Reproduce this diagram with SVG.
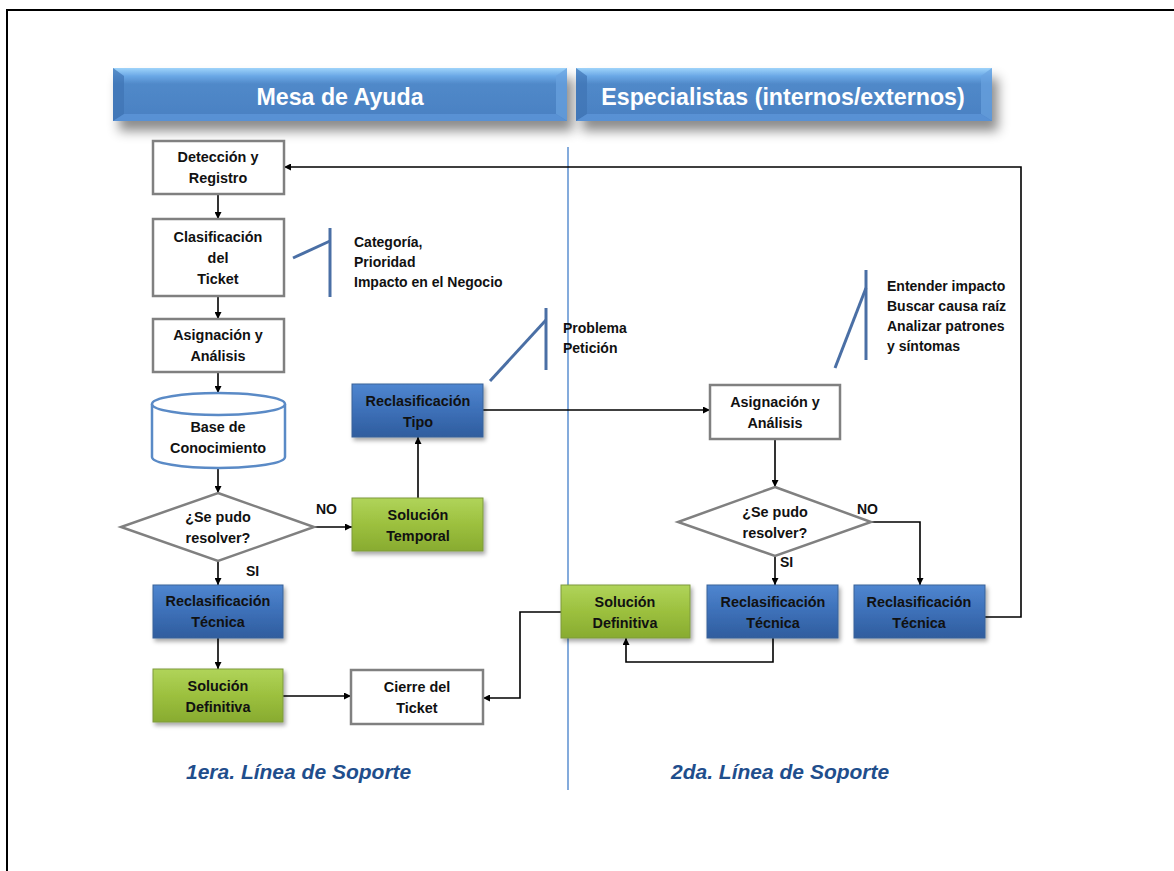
<svg xmlns="http://www.w3.org/2000/svg" width="1174" height="871" viewBox="0 0 1174 871">
  <style>
    text { font-family: "Liberation Sans", Arial, sans-serif; font-weight: bold; }
    .lbl { font-size: 14.4px; fill: #111; text-anchor: middle; }
    .note { font-size: 14px; fill: #111; }
    .hdr { font-size: 23.2px; fill: #fff; text-anchor: middle; }
    .foot { font-size: 21px; fill: #1f4e8c; font-style: italic; }
    .plain { fill: #fff; stroke: #808080; stroke-width: 2.5; }
    .blue { fill: url(#gBlue); stroke: #3a6299; stroke-width: 1; filter: url(#sh); }
    .green { fill: url(#gGreen); stroke: #7f9a3c; stroke-width: 1; filter: url(#sh); }
    .ann { fill: none; stroke: #4a6fa5; stroke-width: 3; }
    .conn { fill: none; stroke: #000; stroke-width: 1.6; }
  </style>
  <defs>
    <linearGradient id="gBlue" x1="0" y1="0" x2="0" y2="1">
      <stop offset="0" stop-color="#4f86d0"/>
      <stop offset="0.5" stop-color="#3d70b8"/>
      <stop offset="1" stop-color="#2f5d9e"/>
    </linearGradient>
    <linearGradient id="gGreen" x1="0" y1="0" x2="0" y2="1">
      <stop offset="0" stop-color="#b0d45a"/>
      <stop offset="0.5" stop-color="#9cc03e"/>
      <stop offset="1" stop-color="#88ab30"/>
    </linearGradient>
    <linearGradient id="gHdr" x1="0" y1="0" x2="0" y2="1">
      <stop offset="0" stop-color="#9fd4fa"/>
      <stop offset="0.15" stop-color="#6aa8e6"/>
      <stop offset="0.3" stop-color="#5089c9"/>
      <stop offset="1" stop-color="#4a80c2"/>
    </linearGradient>
    <filter id="sh" x="-10%" y="-10%" width="130%" height="140%">
      <feDropShadow dx="2" dy="3" stdDeviation="2" flood-color="#000" flood-opacity="0.35"/>
    </filter>
    <filter id="hsh" x="-10%" y="-30%" width="125%" height="190%">
      <feDropShadow dx="6" dy="10" stdDeviation="6" flood-color="#000" flood-opacity="0.45"/>
    </filter>
    <marker id="ah" viewBox="0 0 10 10" refX="10" refY="5" markerWidth="7" markerHeight="7" markerUnits="userSpaceOnUse" orient="auto">
      <path d="M0,0 L10,5 L0,10 z" fill="#000"/>
    </marker>
  </defs>

  <!-- page frame -->
  <path d="M7,871 V10 H1174" fill="none" stroke="#000" stroke-width="2"/>

  <!-- lane headers -->
  <g id="hdr-mesa">
    <rect x="113" y="68" width="454" height="53" fill="url(#gHdr)" filter="url(#hsh)"/>
    <polygon points="113,68 124,76 124,114 113,121" fill="#3f73b4" opacity="0.7"/>
    <polygon points="567,68 556,76 556,114 567,121" fill="#6aa2e0" opacity="0.7"/>
    <polygon points="113,121 124,114 556,114 567,121" fill="#5c95d8" opacity="0.8"/>
    <text class="hdr" x="340" y="105">Mesa de Ayuda</text>
  </g>
  <g id="hdr-esp">
    <rect x="576" y="68" width="416" height="53" fill="url(#gHdr)" filter="url(#hsh)"/>
    <polygon points="576,68 587,76 587,114 576,121" fill="#3f73b4" opacity="0.7"/>
    <polygon points="992,68 981,76 981,114 992,121" fill="#6aa2e0" opacity="0.7"/>
    <polygon points="576,121 587,114 981,114 992,121" fill="#5c95d8" opacity="0.8"/>
    <text class="hdr" x="783" y="105">Especialistas (internos/externos)</text>
  </g>

  <!-- lane divider -->
  <line x1="568" y1="147" x2="568" y2="790" stroke="#5b8fd0" stroke-width="1.5"/>

  <!-- connectors -->
  <g id="connectors">
    <line class="conn" x1="218" y1="194" x2="218" y2="219" marker-end="url(#ah)"/>
    <line class="conn" x1="218" y1="296" x2="218" y2="319" marker-end="url(#ah)"/>
    <line class="conn" x1="218" y1="372" x2="218" y2="393" marker-end="url(#ah)"/>
    <line class="conn" x1="218" y1="468" x2="218" y2="493" marker-end="url(#ah)"/>
    <line class="conn" x1="218" y1="561" x2="218" y2="585" marker-end="url(#ah)"/>
    <line class="conn" x1="314" y1="527" x2="352" y2="527" marker-end="url(#ah)"/>
    <line class="conn" x1="418" y1="498" x2="418" y2="437" marker-end="url(#ah)" stroke="#555"/>
    <line class="conn" x1="483" y1="410" x2="710" y2="410" marker-end="url(#ah)"/>
    <line class="conn" x1="775" y1="439" x2="775" y2="487" marker-end="url(#ah)"/>
    <line class="conn" x1="775" y1="556" x2="775" y2="585" marker-end="url(#ah)"/>
    <polyline class="conn" points="871,522 920,522 920,585" marker-end="url(#ah)"/>
    <polyline class="conn" points="985,617 1021,617 1021,167 284,167" marker-end="url(#ah)"/>
    <polyline class="conn" points="773,638 773,662 626,662 626,638" marker-end="url(#ah)"/>
    <polyline class="conn" points="561,612 520,612 520,698 483,698" marker-end="url(#ah)"/>
    <line class="conn" x1="218" y1="638" x2="218" y2="669" marker-end="url(#ah)"/>
    <line class="conn" x1="283" y1="696" x2="351" y2="696" marker-end="url(#ah)"/>
  </g>

  <!-- edge labels -->
  <text class="note" x="316" y="514">NO</text>
  <text class="note" x="246" y="576">SI</text>
  <text class="note" x="857" y="514">NO</text>
  <text class="note" x="780" y="567">SI</text>

  <!-- first-line nodes -->
  <g id="n-deteccion">
    <rect class="plain" x="153" y="141" width="131" height="53"/>
    <text class="lbl" x="218" y="162">Detección y</text>
    <text class="lbl" x="218" y="183">Registro</text>
  </g>
  <g id="n-clasificacion">
    <rect class="plain" x="153" y="219" width="131" height="77"/>
    <text class="lbl" x="218" y="242">Clasificación</text>
    <text class="lbl" x="218" y="263">del</text>
    <text class="lbl" x="218" y="284">Ticket</text>
  </g>
  <g id="n-asignacion1">
    <rect class="plain" x="153" y="319" width="131" height="53"/>
    <text class="lbl" x="218" y="340">Asignación y</text>
    <text class="lbl" x="218" y="361">Análisis</text>
  </g>
  <g id="n-base">
    <path d="M152,404 V457 A66.5,11 0 0 0 285,457 V404" fill="#fff" stroke="#5a8ac6" stroke-width="2.5"/>
    <ellipse cx="218.5" cy="404" rx="66.5" ry="11" fill="#fff" stroke="#5a8ac6" stroke-width="2.5"/>
    <text class="lbl" x="218" y="432">Base de</text>
    <text class="lbl" x="218" y="453">Conocimiento</text>
  </g>
  <g id="n-decision1">
    <polygon class="plain" points="218,493 314,527 218,561 121,527"/>
    <text class="lbl" x="218" y="522">¿Se pudo</text>
    <text class="lbl" x="218" y="543">resolver?</text>
  </g>
  <g id="n-reclas-tec1">
    <rect class="blue" x="153" y="585" width="130" height="53"/>
    <text class="lbl" x="218" y="606">Reclasificación</text>
    <text class="lbl" x="218" y="627">Técnica</text>
  </g>
  <g id="n-sol-def1">
    <rect class="green" x="153" y="669" width="130" height="53"/>
    <text class="lbl" x="218" y="691">Solución</text>
    <text class="lbl" x="218" y="712">Definitiva</text>
  </g>
  <g id="n-cierre">
    <rect class="plain" x="351" y="670" width="132" height="54"/>
    <text class="lbl" x="417" y="692">Cierre del</text>
    <text class="lbl" x="417" y="713">Ticket</text>
  </g>
  <g id="n-sol-temp">
    <rect class="green" x="352" y="498" width="131" height="53"/>
    <text class="lbl" x="418" y="520">Solución</text>
    <text class="lbl" x="418" y="541">Temporal</text>
  </g>
  <g id="n-reclas-tipo">
    <rect class="blue" x="352" y="384" width="131" height="53"/>
    <text class="lbl" x="418" y="406">Reclasificación</text>
    <text class="lbl" x="418" y="427">Tipo</text>
  </g>

  <!-- annotations -->
  <g id="a-clasificacion">
    <polyline class="ann" points="293,258 330,241"/>
    <line class="ann" x1="330" y1="228" x2="330" y2="297"/>
    <text class="note" x="354" y="247">Categoría,</text>
    <text class="note" x="354" y="267">Prioridad</text>
    <text class="note" x="354" y="287">Impacto en el Negocio</text>
  </g>
  <g id="a-tipo">
    <polyline class="ann" points="490,381 546,320"/>
    <line class="ann" x1="546" y1="308" x2="546" y2="370"/>
    <text class="note" x="563" y="333">Problema</text>
    <text class="note" x="563" y="353">Petición</text>
  </g>
  <g id="a-analisis">
    <polyline class="ann" points="835,368 866,288"/>
    <line class="ann" x1="866" y1="270" x2="866" y2="360"/>
    <text class="note" x="887" y="291">Entender impacto</text>
    <text class="note" x="887" y="311">Buscar causa raíz</text>
    <text class="note" x="887" y="331">Analizar patrones</text>
    <text class="note" x="887" y="351">y síntomas</text>
  </g>

  <!-- second-line nodes -->
  <g id="n-asignacion2">
    <rect class="plain" x="710" y="385" width="130" height="54"/>
    <text class="lbl" x="775" y="407">Asignación y</text>
    <text class="lbl" x="775" y="428">Análisis</text>
  </g>
  <g id="n-decision2">
    <polygon class="plain" points="775,487 871,522 775,556 678,522"/>
    <text class="lbl" x="775" y="517">¿Se pudo</text>
    <text class="lbl" x="775" y="538">resolver?</text>
  </g>
  <g id="n-sol-def2">
    <rect class="green" x="561" y="585" width="129" height="53"/>
    <text class="lbl" x="625" y="607">Solución</text>
    <text class="lbl" x="625" y="628">Definitiva</text>
  </g>
  <g id="n-reclas-tec2">
    <rect class="blue" x="707" y="585" width="131" height="53"/>
    <text class="lbl" x="773" y="607">Reclasificación</text>
    <text class="lbl" x="773" y="628">Técnica</text>
  </g>
  <g id="n-reclas-tec3">
    <rect class="blue" x="854" y="585" width="131" height="53"/>
    <text class="lbl" x="919" y="607">Reclasificación</text>
    <text class="lbl" x="919" y="628">Técnica</text>
  </g>

  <!-- lane footers -->
  <text class="foot" x="186" y="779">1era. Línea de Soporte</text>
  <text class="foot" x="671" y="779">2da. Línea de Soporte</text>
</svg>
